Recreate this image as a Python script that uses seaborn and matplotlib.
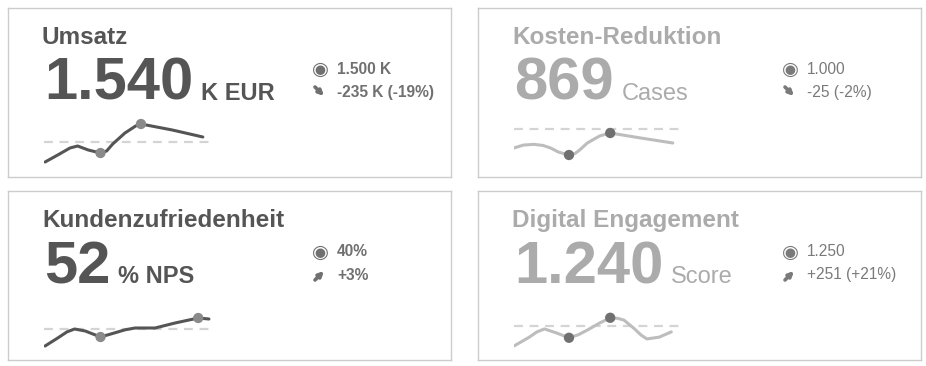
import pandas as pd
import seaborn as sns
import matplotlib.pyplot as plt

# KPI cards
titles = ["Umsatz", "Kosten-Reduktion", "Kundenzufriedenheit", "Digital Engagement"]
values = ["1.540", "869", "52", "1.240"]
units = ["K EUR", "Cases", "% NPS", "Score"]
targets_txt = ["1.500 K", "1.000", "40%", "1.250"]
deltas_txt = ["-235 K (-19%)", "-25 (-2%)", "+3%", "+251 (+21%)"]
trend_up = [False, False, True, True]
active = [True, False, True, False]

# sparkline data (month position, value), target line, highlighted points
umsatz_x = [0.07, 0.9, 1.7, 2.2, 2.9, 3.7, 4.1, 4.5, 5.3, 6.0, 6.35, 8.4, 10.4]
umsatz_y = [1300, 1370, 1440, 1460, 1420, 1390, 1410, 1480, 1590, 1660, 1680, 1620, 1550]
kosten_x = [0.0, 0.6, 1.3, 1.9, 2.4, 2.9, 3.6, 4.0, 4.3, 4.8, 5.6, 6.3, 8.3, 10.4]
kosten_y = [829, 855, 862, 852, 829, 793, 766, 780, 811, 874, 937, 964, 919, 874]
kunden_x = [0.07, 0.9, 1.5, 2.0, 2.7, 3.7, 4.6, 5.3, 5.96, 7.27, 8.58, 10.1, 10.8]
kunden_y = [19.6, 29.2, 36.5, 40.0, 37.6, 30.4, 35.2, 39.0, 41.2, 41.2, 47.2, 53.2, 52.0]
digital_x = [0.0, 1.0, 1.5, 2.0, 2.8, 3.6, 4.2, 4.8, 5.6, 6.3, 6.8, 7.2, 7.9, 8.3, 8.7, 9.5, 10.3]
digital_y = [1216, 1231, 1240, 1245, 1238, 1230, 1235, 1243, 1255, 1264, 1263, 1260, 1245, 1235, 1228, 1231, 1240]
spark_target = [1500, 1000, 40, 1250]
spark_marks = [[5, 10], [6, 11], [5, 11], [5, 9]]
spark_xs = [umsatz_x, kosten_x, kunden_x, digital_x]
spark_ys = [umsatz_y, kosten_y, kunden_y, digital_y]
# value per pixel, used to size the inset y range
spark_scale = [10, 9, 1.2, 1.7]
dash_rows = [134, 121, 138, 135]

W, H = 926, 366
sns.set_style("white")
plt.rcParams['font.family'] = ['Liberation Sans', 'DejaVu Sans']

fig = plt.figure(figsize=(W / 100, H / 100), dpi=100)


def rect(x, y, w, h):
    return [x / W, 1 - (y + h) / H, w / W, h / H]


panels = [(8, 8), (478, 8), (8, 191), (478, 191)]
pw, ph = 443, 169

dark = "#555555"
faded = "#ababab"

for i, (px, py) in enumerate(panels):
    ax = fig.add_axes(rect(px, py, pw, ph))
    ax.set_xlim(0, pw)
    ax.set_ylim(ph, 0)
    ax.set_xticks([])
    ax.set_yticks([])
    for s in ax.spines.values():
        s.set_color("#cccccc")
        s.set_linewidth(1)

    main_c = dark if active[i] else faded
    small_c = "#707070" if active[i] else "#7a7a7a"
    small_w = "bold" if active[i] else "normal"

    ax.text(34, 36, titles[i], fontsize=17.5, fontweight="bold", color=main_c, va="baseline")
    num = ax.text(36, 92, values[i], fontsize=43, fontweight="bold", color=main_c, va="baseline")
    fig.canvas.draw()
    bb = num.get_window_extent()
    inv = ax.transData.inverted()
    x_end = inv.transform((bb.x1, bb.y0))[0]
    ax.text(x_end + 8, 92, units[i], fontsize=17, fontweight="bold" if active[i] else "normal",
            color=main_c, va="baseline")

    # target icon and trend arrow
    ax.text(312, 61, "\u25c9", fontsize=14, color=small_c, va="center", ha="center",
            family=["DejaVu Sans"])
    if trend_up[i]:
        a0, a1 = (307, 89), (316, 80)
    else:
        a0, a1 = (307, 79), (316, 88)
    ax.annotate("", xy=a1, xytext=a0,
                arrowprops=dict(arrowstyle="-|>", lw=2.6, color=small_c,
                                mutation_scale=7, shrinkA=0, shrinkB=0))
    ax.text(329, 61, targets_txt[i], fontsize=11.2, fontweight=small_w, color=small_c, va="center")
    ax.text(329, 84, deltas_txt[i], fontsize=11.2, fontweight=small_w, color=small_c, va="center")

    # sparkline inset
    dash_y = dash_rows[i]
    top, bottom = 105, 165
    sx = fig.add_axes(rect(px + 36, py + top, 168, bottom - top))
    sx.axis("off")
    t = spark_target[i]
    k = spark_scale[i]

    line_c = dark if active[i] else "#bdbdbd"
    mark_c = "#8a8a8a" if active[i] else "#707070"
    df = pd.DataFrame({"x": spark_xs[i], "y": spark_ys[i]})
    sx.axhline(t, color="#d4d4d4", lw=1.6, dashes=(4, 3), zorder=1)
    sns.lineplot(data=df, x="x", y="y", ax=sx, color=line_c, lw=2.2, zorder=2)
    sns.scatterplot(data=df.iloc[spark_marks[i]], x="x", y="y", ax=sx, color=mark_c,
                    s=55, edgecolor="none", zorder=3)
    sx.set_xlim(0, 11)
    sx.set_ylim(t - (bottom - dash_y) * k, t + (dash_y - top) * k)

fig.savefig("out.png", dpi=100)
